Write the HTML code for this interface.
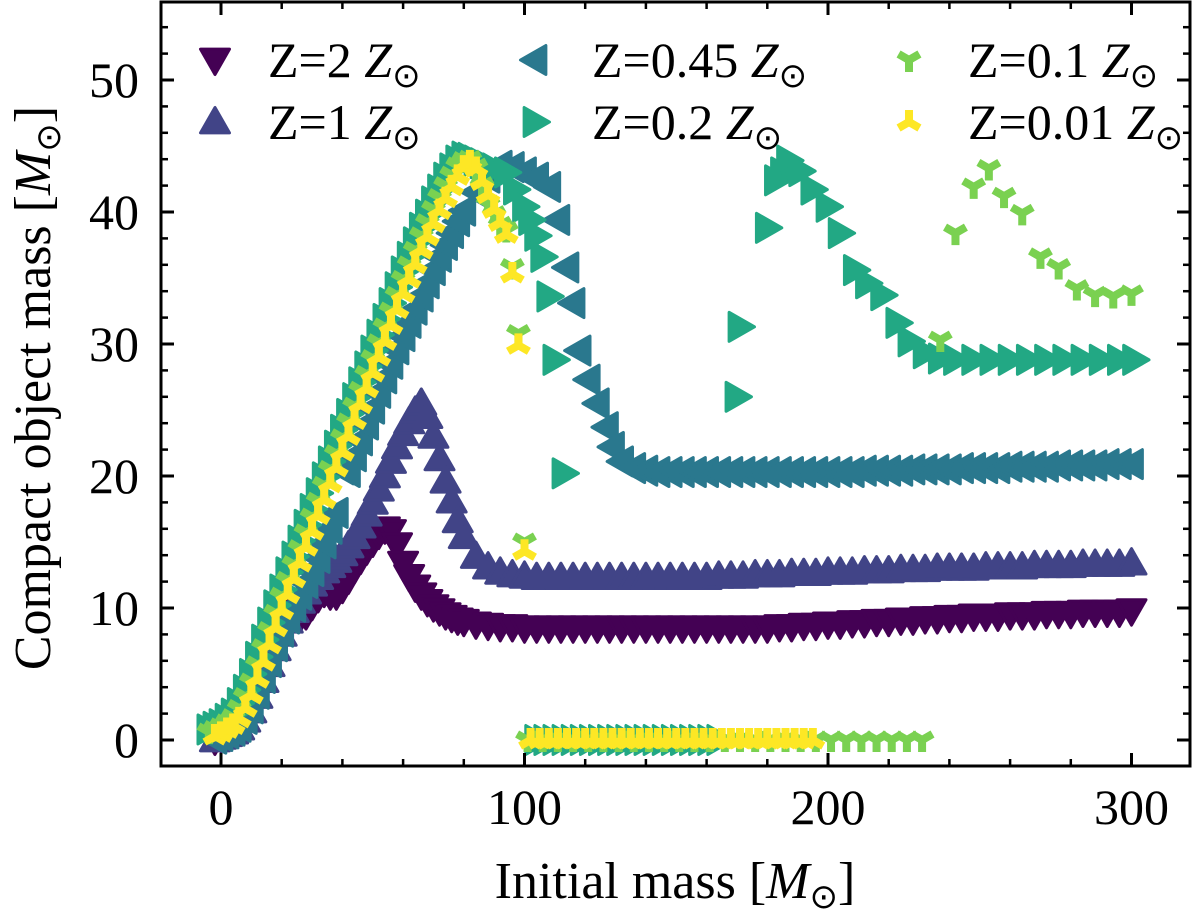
<!DOCTYPE html>
<html><head><meta charset="utf-8">
<style>
html,body{margin:0;padding:0;background:#fff;}
svg{display:block;font-family:"Liberation Serif",serif;}
</style></head>
<body>
<svg id="chart" width="1200" height="912" viewBox="0 0 1200 912" xmlns="http://www.w3.org/2000/svg">
<g id="plot"></g>
<g id="axes"></g>
<g id="legend"></g>
</svg>
<script>
// ---- data ----
const xTickLabels = [0, 100, 200, 300];
const yTickLabels = [0, 10, 20, 30, 40, 50];

const z2X = [-2,0,2,4,6,8,10,12,14,16,18,20,22,24,26,28,30,32,34,36,38,40,42,44,46,48,50,52,54,56,58,60,62,64,66,68,70,72,74,76,78,80,84,88,92,96,100,104,108,112,116,120,124,128,132,136,140,144,148,152,156,160,164,168,172,176,180,184,188,192,196,200,204,208,212,216,220,224,228,232,236,240,244,248,252,256,260,264,268,272,276,280,284,288,292,296,300];
const z2Y = [0,0.2,0.4,0.6,0.9,1.5,2.2,3.3,4.5,5.7,6.9,8.0,9.0,9.8,9.3,9.5,10.2,10.8,11.2,11.0,11.0,11.5,12.2,13.0,13.7,14.4,15.0,15.6,16.0,15.8,14.8,13.4,12.4,11.6,11.0,10.5,10.1,9.8,9.5,9.3,9.1,9.0,8.8,8.7,8.6,8.6,8.5,8.5,8.5,8.5,8.5,8.5,8.5,8.5,8.5,8.5,8.5,8.5,8.5,8.5,8.5,8.5,8.5,8.5,8.5,8.5,8.5,8.6,8.6,8.7,8.7,8.8,8.8,8.9,8.9,9.0,9.0,9.1,9.1,9.2,9.2,9.3,9.3,9.4,9.4,9.4,9.5,9.5,9.5,9.6,9.6,9.6,9.7,9.7,9.7,9.7,9.8];

const z1X = [-2,0,2,4,6,8,10,12,14,16,18,20,22,24,26,28,30,32,34,36,38,40,42,44,46,48,50,52,54,56,58,60,62,64,66,68,70,72,74,76,78,80,84,88,92,96,100,104,108,112,116,120,124,128,132,136,140,144,148,152,156,160,164,168,172,176,180,184,188,192,196,200,204,208,212,216,220,224,228,232,236,240,244,248,252,256,260,264,268,272,276,280,284,288,292,296,300];
const z1Y = [0,0.2,0.4,0.6,0.9,1.5,2.2,3.3,4.5,5.7,6.9,8.0,9.0,9.8,10.5,11.2,11.8,12.3,12.8,13.2,13.6,14.1,14.7,15.4,16.2,17.1,18.0,19.0,20.0,21.1,22.2,23.2,24.1,24.9,25.5,24.5,23.0,21.3,19.6,18.1,16.6,15.4,13.9,13.1,12.7,12.5,12.4,12.3,12.3,12.3,12.3,12.3,12.3,12.3,12.3,12.3,12.3,12.3,12.3,12.3,12.3,12.3,12.4,12.4,12.4,12.5,12.5,12.5,12.6,12.6,12.6,12.7,12.7,12.7,12.8,12.8,12.8,12.9,12.9,12.9,13.0,13.0,13.0,13.0,13.1,13.1,13.1,13.1,13.2,13.2,13.2,13.2,13.3,13.3,13.3,13.3,13.4];

const z045X = [-2,0,2,4,6,8,10,12,14,16,18,20,22,24,26,28,30,32,34,36,38,40,42,44,46,48,50,52,54,56,58,60,62,64,66,68,70,72,74,76,78,80,84,88,92,96,100,104,108,111,114,116,118,121,124,127,129,132,136,140,144,148,152,156,160,164,168,172,176,180,184,188,192,196,200,204,208,212,216,220,224,228,232,236,240,244,248,252,256,260,264,268,272,276,280,284,288,292,296,300];
const z045Y = [0.1,0.3,0.5,0.7,1.0,1.6,2.4,3.5,4.7,5.9,7.1,8.2,9.2,10.1,11.0,11.9,12.8,13.8,14.9,16.0,17.2,20.5,20.3,21.5,22.7,23.9,25.1,26.3,27.4,28.5,29.6,30.6,31.6,32.6,33.6,34.6,35.6,36.6,37.5,38.4,39.3,40.1,41.5,42.6,43.5,43.4,43.0,42.6,41.9,39.4,35.8,33.1,29.5,27.3,25.5,23.7,22.2,21.1,20.6,20.4,20.3,20.3,20.3,20.3,20.3,20.3,20.3,20.3,20.3,20.3,20.3,20.3,20.3,20.3,20.3,20.3,20.3,20.4,20.4,20.4,20.4,20.5,20.5,20.5,20.5,20.6,20.6,20.6,20.6,20.7,20.7,20.7,20.7,20.8,20.8,20.8,20.8,20.9,20.9,20.9];

const z02X = [-4,-2,0,2,4,6,8,10,12,14,16,18,20,22,24,26,28,30,32,34,36,38,40,42,44,46,48,50,52,54,56,58,60,62,64,66,68,70,72,74,76,78,80,82,84,86,88,90,94,97,100,102,104,106,108,110,113,104,107,110,113,116,119,122,125,128,131,134,137,140,143,146,149,152,155,158,161,164,170,171,180,183,185,187,191,195,200,204,209,213,218,223,227,232,237,242,248,254,260,266,272,278,284,290,296,301];
const z02Y = [0.8,1.0,1.2,1.6,2.0,2.8,3.8,5.0,6.3,7.6,8.9,10.2,11.4,12.7,13.9,15.1,16.3,17.5,18.7,19.9,21.1,22.3,23.5,24.7,25.9,27.1,28.3,29.5,30.7,31.9,33.1,34.3,35.5,36.6,37.7,38.8,39.8,40.8,41.7,42.6,43.3,43.9,44.2,44.1,43.9,43.7,43.5,43.3,43.0,41.7,40.4,39.4,38.2,36.6,33.6,28.8,20.2,0,0,0,0,0,0,0,0,0,0,0,0,0,0,0,0,0,0,0,0,0,26.0,31.3,38.8,42.4,43.0,43.9,43.1,41.7,40.4,38.4,35.6,34.6,33.7,31.6,30.2,29.3,28.9,28.8,28.8,28.8,28.8,28.8,28.8,28.8,28.8,28.8,28.8,28.8];

const z01X = [-4,-2,0,2,4,6,8,10,12,14,16,18,20,22,24,26,28,30,32,34,36,38,40,42,44,46,48,50,52,54,56,58,60,62,64,66,68,70,72,74,76,78,80,82,84,86,88,90,92,94,96,98,100,101,106,111,116,121,126,131,136,141,146,151,156,161,166,171,176,181,186,191,196,201,206,211,216,221,226,231,237,242,248,253,258,264,270,276,282,288,294,300];
const z01Y = [0.6,0.8,1.0,1.3,1.7,2.4,3.3,4.4,5.7,7.0,8.3,9.6,10.9,12.1,13.3,14.5,15.7,16.9,18.1,19.3,20.5,21.7,22.9,24.1,25.3,26.5,27.7,28.9,30.1,31.3,32.5,33.7,34.9,36.0,37.1,38.2,39.2,40.2,41.1,42.0,42.8,43.5,43.9,44.0,43.4,42.0,40.6,39.8,39.0,38.6,35.8,30.8,15.0,0,0,0,0,0,0,0,0,0,0,0,0,0,0,0,0,0,0,0,0,0,0,0,0,0,0,0,30.3,38.4,41.9,43.3,41.2,39.9,36.6,35.8,34.2,33.7,33.6,33.8];

const z001X = [-2,0,2,4,6,8,10,12,14,16,18,20,22,24,26,28,30,32,34,36,38,40,42,44,46,48,50,52,54,56,58,60,62,64,66,68,70,72,74,76,78,80,82,84,86,88,90,92,94,96,98,100,102,105,108,111,114,117,120,123,126,129,132,135,138,141,144,147,150,153,156,159,162,165,168,171,174,177,180,183,186,189,192,195];
const z001Y = [0.3,0.5,0.8,1.1,1.6,2.4,3.4,4.6,5.9,7.2,8.5,9.8,11.0,12.2,13.4,14.6,15.8,17.0,18.2,19.4,20.6,21.8,23.0,24.2,25.4,26.6,27.8,29.0,30.2,31.4,32.6,33.8,34.9,36.0,37.1,38.1,39.1,40.1,41.0,41.9,42.7,43.4,43.8,43.3,42.3,41.3,40.2,39.2,38.3,35.3,29.9,14.3,0,0,0,0,0,0,0,0,0,0,0,0,0,0,0,0,0,0,0,0,0,0,0,0,0,0,0,0,0,0,0,0];

const seriesLabels = ["2", "1", "0.45", "0.2", "0.1", "0.01"];
const seriesColors = ["#440154", "#414487", "#2a788e", "#22a884", "#7ad151", "#fde725"];

// ---- axes functions ----
const X0 = 221, XS = 3.035, Y0 = 740, YS = 13.2;
function sx(v){ return X0 + v*XS; }
function sy(v){ return Y0 - v*YS; }
const L = 161, R = 1190, T = 2, B = 766;
const NS = "http://www.w3.org/2000/svg";
function mk(tag, attrs, parent){
  const e = document.createElementNS(NS, tag);
  for (const k in attrs) e.setAttribute(k, attrs[k]);
  parent.appendChild(e);
  return e;
}
const s = 14.5;
function markerPath(kind, cx, cy){
  if (kind === "down") return `M${cx-s},${cy-s*0.75} L${cx+s},${cy-s*0.75} L${cx},${cy+s} Z`;
  if (kind === "up") return `M${cx-s},${cy+s*0.75} L${cx+s},${cy+s*0.75} L${cx},${cy-s} Z`;
  if (kind === "left") return `M${cx+s*0.75},${cy-s} L${cx+s*0.75},${cy+s} L${cx-s},${cy} Z`;
  if (kind === "right") return `M${cx-s*0.75},${cy-s} L${cx-s*0.75},${cy+s} L${cx+s},${cy} Z`;
  const t = 12;
  if (kind === "tridown") return `M${cx},${cy} L${cx},${cy+t} M${cx},${cy} L${cx-t*0.87},${cy-t*0.5} M${cx},${cy} L${cx+t*0.87},${cy-t*0.5}`;
  return `M${cx},${cy} L${cx},${cy-t} M${cx},${cy} L${cx-t*0.87},${cy+t*0.5} M${cx},${cy} L${cx+t*0.87},${cy+t*0.5}`;
}
const kinds = ["down","up","left","right","tridown","triup"];
const allX = [z2X, z1X, z045X, z02X, z01X, z001X];
const allY = [z2Y, z1Y, z045Y, z02Y, z01Y, z001Y];

const plot = document.getElementById('plot');
const clip = mk('clipPath', {id:'clip'}, plot);
mk('rect', {x:L, y:T, width:R-L, height:B-T}, clip);
const dataG = mk('g', {'clip-path':'url(#clip)'}, plot);

function styleFor(i){
  const k = kinds[i], c = seriesColors[i];
  if (k === "tridown" || k === "triup") return {fill:'none', stroke:c, 'stroke-width':8, 'stroke-linecap':'butt'};
  return {fill:c, stroke:c, 'stroke-width':3, 'stroke-linejoin':'round'};
}

for (let i = 0; i < 6; i++){
  const g = mk('g', {}, dataG);
  
  
  const xs = allX[i], ys = allY[i];
  for (let j = 0; j < xs.length; j++){
    const p = mk('path', Object.assign({d: markerPath(kinds[i], sx(xs[j]), sy(ys[j]))}, styleFor(i)), g);
    
    
  }
}

// ---- axes ----
const axes = document.getElementById('axes');
const frame = mk('rect', {x:L, y:T, width:R-L, height:B-T, fill:'none', stroke:'#000', 'stroke-width':3}, axes);



for (let v = -20; v <= 320; v += 20){
  const major = v % 100 === 0;
  const len = major ? 13 : 7;
  const x = sx(v);
  if (x < L+2 || x > R-2) continue;
  const t1 = mk('line', {x1:x, x2:x, y1:B, y2:B-len, stroke:'#000', 'stroke-width':major?3:2.5}, axes);
  
  
  const t2 = mk('line', {x1:x, x2:x, y1:T, y2:T+len, stroke:'#000', 'stroke-width':major?3:2.5}, axes);
  
  
}
for (let v = -2; v <= 56; v += 2){
  const major = v % 10 === 0;
  const len = major ? 13 : 7;
  const y = sy(v);
  if (y > B-2 || y < T+2) continue;
  const t1 = mk('line', {x1:L, x2:L+len, y1:y, y2:y, stroke:'#000', 'stroke-width':major?3:2.5}, axes);
  
  
  const t2 = mk('line', {x1:R, x2:R-len, y1:y, y2:y, stroke:'#000', 'stroke-width':major?3:2.5}, axes);
  
  
}
xTickLabels.forEach(v => {
  const t = mk('text', {x:sx(v), y:824, 'font-size':50, 'text-anchor':'middle'}, axes);
  t.textContent = v;
  
  
});
yTickLabels.forEach(v => {
  const t = mk('text', {x:139, y:sy(v)+17, 'font-size':50, 'text-anchor':'end'}, axes);
  t.textContent = v;
  
  
});

// axis titles
const xt = mk('text', {x:675, y:898, 'font-size':52, 'text-anchor':'middle'}, axes);


xt.innerHTML = 'Initial mass [<tspan font-style="italic">M</tspan><tspan font-size="34" dy="10">⊙</tspan><tspan dy="-10">]</tspan>';
const yt = mk('text', {x:0, y:0, 'font-size':52, 'text-anchor':'middle', transform:'translate(50,388) rotate(-90)'}, axes);


yt.innerHTML = 'Compact object mass [<tspan font-style="italic">M</tspan><tspan font-size="34" dy="10">⊙</tspan><tspan dy="-10">]</tspan>';

// ---- legend ----
const legend = document.getElementById('legend');
const legPos = [[215,60],[215,122],[535,60],[535,122],[909,60],[909,122]];
const textX = [268,268,592,592,968,968];
for (let i = 0; i < 6; i++){
  const g = mk('g', {}, legend);
  
  
  mk('path', Object.assign({d: markerPath(kinds[i], legPos[i][0], legPos[i][1])}, styleFor(i)), g);
  const t = mk('text', {x:textX[i], y:legPos[i][1]+17, 'font-size':50}, g);
  t.innerHTML = 'Z=' + seriesLabels[i] + ' <tspan font-style="italic">Z</tspan><tspan font-size="34" dy="10">⊙</tspan>';
}
</script>
</body></html>
